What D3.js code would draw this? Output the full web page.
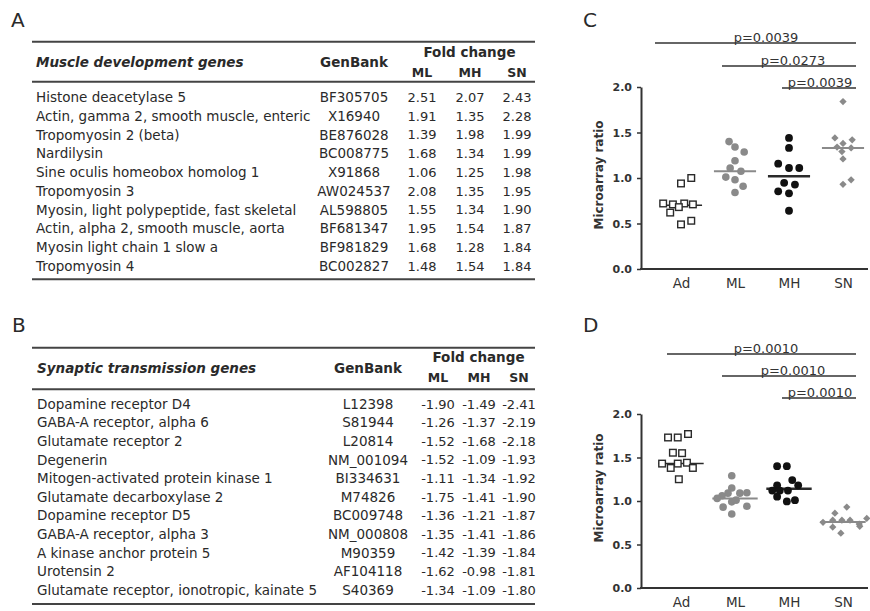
<!DOCTYPE html>
<html>
<head>
<meta charset="utf-8">
<script src="https://cdn.jsdelivr.net/npm/d3@7"></script>
<style>
  body { margin: 0; background: #fff; }
  svg { display: block; font-family: "DejaVu Sans", sans-serif; }
</style>
</head>
<body>
<div id="chart"></div>
<script>
// ---- table A: muscle development genes
const muscleGenes = ["Histone deacetylase 5", "Actin, gamma 2, smooth muscle, enteric", "Tropomyosin 2 (beta)",
  "Nardilysin", "Sine oculis homeobox homolog 1", "Tropomyosin 3", "Myosin, light polypeptide, fast skeletal",
  "Actin, alpha 2, smooth muscle, aorta", "Myosin light chain 1 slow a", "Tropomyosin 4"];
const muscleGenBank = ["BF305705", "X16940", "BE876028", "BC008775", "X91868", "AW024537", "AL598805",
  "BF681347", "BF981829", "BC002827"];
const muscleML = [2.51, 1.91, 1.39, 1.68, 1.06, 2.08, 1.55, 1.95, 1.68, 1.48];
const muscleMH = [2.07, 1.35, 1.98, 1.34, 1.25, 1.35, 1.34, 1.54, 1.28, 1.54];
const muscleSN = [2.43, 2.28, 1.99, 1.99, 1.98, 1.95, 1.90, 1.87, 1.84, 1.84];

// ---- table B: synaptic transmission genes
const synapticGenes = ["Dopamine receptor D4", "GABA-A receptor, alpha 6", "Glutamate receptor 2", "Degenerin",
  "Mitogen-activated protein kinase 1", "Glutamate decarboxylase 2", "Dopamine receptor D5",
  "GABA-A receptor, alpha 3", "A kinase anchor protein 5", "Urotensin 2", "Glutamate receptor, ionotropic, kainate 5"];
const synapticGenBank = ["L12398", "S81944", "L20814", "NM_001094", "BI334631", "M74826", "BC009748",
  "NM_000808", "M90359", "AF104118", "S40369"];
const synapticML = [-1.90, -1.26, -1.52, -1.52, -1.11, -1.75, -1.36, -1.35, -1.42, -1.62, -1.34];
const synapticMH = [-1.49, -1.37, -1.68, -1.09, -1.34, -1.41, -1.21, -1.41, -1.39, -0.98, -1.09];
const synapticSN = [-2.41, -2.19, -2.18, -1.93, -1.92, -1.90, -1.87, -1.86, -1.84, -1.81, -1.80];

// ---- dot plots
const groups = ["Ad", "ML", "MH", "SN"];
const yTicks = [0, 0.5, 1.0, 1.5, 2.0];

// panel C: microarray ratio per animal, with horizontal spread (in category units)
const cAd = [1.00, 0.94, 0.72, 0.71, 0.72, 0.71, 0.68, 0.62, 0.53, 0.49];
const cAdDx = [0.19, 0, -0.33, -0.15, 0.06, 0.22, -0.04, -0.2, 0.19, 0];
const cML = [1.40, 1.34, 1.285, 1.19, 1.11, 1.075, 1.01, 0.98, 0.91, 0.84];
const cMLDx = [-0.11, 0, 0.17, 0, -0.09, 0.11, -0.17, 0, 0.15, 0];
const cMH = [1.44, 1.33, 1.157, 1.11, 1.11, 0.947, 0.928, 0.854, 0.832, 0.64];
const cMHDx = [0, 0, -0.2, 0, 0.19, -0.09, 0.11, -0.2, 0, 0];
const cSN = [1.84, 1.44, 1.42, 1.38, 1.34, 1.33, 1.29, 1.21, 0.98, 0.93];
const cSNDx = [0, -0.15, 0.17, 0, -0.11, 0.15, -0.02, 0, 0.15, 0];
const cMedians = [0.70, 1.075, 1.02, 1.33];
const cPairs = [["Ad", "SN"], ["ML", "SN"], ["MH", "SN"]];
const cPValues = ["p=0.0039", "p=0.0273", "p=0.0039"];

// panel D
const dAd = [1.77, 1.73, 1.73, 1.555, 1.55, 1.43, 1.43, 1.44, 1.38, 1.38, 1.25];
const dAdDx = [0.13, -0.06, -0.24, -0.15, 0.02, -0.35, -0.06, 0.11, -0.19, 0.22, -0.04];
const dML = [1.29, 1.15, 1.09, 1.09, 1.095, 1.06, 0.99, 0.93, 0.94, 0.85, 1.03, 1.01];
const dMLDx = [-0.06, -0.06, -0.13, 0.09, 0.22, -0.24, -0.06, -0.22, 0.22, -0.06, -0.33, 0.02];
const dMH = [1.40, 1.40, 1.24, 1.18, 1.18, 1.12, 1.12, 1.12, 1.05, 0.995, 1.01];
const dMHDx = [-0.22, -0.04, 0.06, -0.22, 0.17, -0.31, -0.17, -0.02, -0.22, -0.04, 0.11];
const dSN = [0.93, 0.86, 0.80, 0.735, 0.755, 0.78, 0.78, 0.78, 0.70, 0.63, 0.71];
const dSNDx = [0.07, -0.15, 0.44, 0.3, -0.37, -0.19, -0.02, 0.13, -0.19, -0.04, 0.31];
const dMedians = [1.43, 1.03, 1.14, 0.76];
const dPairs = [["Ad", "SN"], ["ML", "SN"], ["MH", "SN"]];
const dPValues = ["p=0.0010", "p=0.0010", "p=0.0010"];

const W = 870, H = 611;
const svg = d3.select("#chart").append("svg")
  .attr("width", W).attr("height", H)
  .attr("viewBox", `0 0 ${W} ${H}`);

const ink = "#2a2a2a";
const grey = "#8a8a8a";

// panel letters
const letters = [["A", 11, 27], ["B", 12, 332], ["C", 583, 27], ["D", 583, 332]];
svg.selectAll(".letter").data(letters).enter().append("text")
  .attr("class", "letter")
  .attr("x", d => d[1])
  .attr("y", d => d[2])
  .attr("font-size", 20).attr("fill", ink)
  .text(d => d[0]);

// ---------- tables ----------
function drawTable(opt) {
  const g = svg.append("g");
  const rule = y => g.append("line")
    .attr("x1", opt.left).attr("x2", opt.right).attr("y1", y).attr("y2", y)
    .attr("stroke", "#444").attr("stroke-width", 2);
  rule(opt.top);
  rule(opt.headRule);

  const rowY = d3.scaleLinear().domain([0, opt.genes.length - 1]).range([opt.firstRow, opt.lastRow]);
  rule(rowY(opt.genes.length - 1) + opt.bottomGap);

  g.append("text")
    .attr("x", opt.geneX).attr("y", opt.headY)
    .attr("font-weight", "bold").attr("font-style", "italic")
    .attr("font-size", 13.5).attr("fill", ink)
    .text(opt.title);
  g.append("text")
    .attr("x", opt.bankX).attr("y", opt.headY)
    .attr("text-anchor", "middle").attr("font-weight", "bold")
    .attr("font-size", 13.5).attr("fill", ink)
    .text("GenBank");
  g.append("text")
    .attr("x", (opt.cols[0] + opt.cols[2]) / 2).attr("y", opt.foldY)
    .attr("text-anchor", "middle").attr("font-weight", "bold")
    .attr("font-size", 13.5).attr("fill", ink)
    .text("Fold change");
  g.selectAll(".colhead").data(["ML", "MH", "SN"]).enter().append("text")
    .attr("x", (d, i) => opt.cols[i]).attr("y", opt.subY)
    .attr("text-anchor", "middle").attr("font-weight", "bold")
    .attr("font-size", 12.5).attr("fill", ink)
    .text(d => d);

  const rows = opt.genes.map((gene, i) => ({
    gene, bank: opt.banks[i], vals: [opt.ml[i], opt.mh[i], opt.sn[i]], i
  }));
  const r = g.selectAll(".row").data(rows).enter().append("g")
    .attr("transform", d => `translate(0,${rowY(d.i)})`);
  r.append("text").attr("x", opt.geneX).attr("dy", "0.36em")
    .attr("font-size", 13.5).attr("fill", ink).text(d => d.gene);
  r.append("text").attr("x", opt.bankX).attr("dy", "0.36em")
    .attr("text-anchor", "middle")
    .attr("font-size", 13.5).attr("fill", ink).text(d => d.bank);
  r.selectAll(".v").data(d => d.vals).enter().append("text")
    .attr("x", (v, j) => opt.cols[j]).attr("dy", "0.36em")
    .attr("text-anchor", "middle")
    .attr("font-size", 13).attr("fill", ink)
    .text(v => v.toFixed(2));
}

drawTable({
  title: "Muscle development genes",
  genes: muscleGenes, banks: muscleGenBank, ml: muscleML, mh: muscleMH, sn: muscleSN,
  left: 32, right: 535, top: 41.7, headRule: 81.7, bottomGap: 13.3,
  firstRow: 97.3, lastRow: 266,
  geneX: 36, bankX: 354, cols: [422, 470, 517],
  headY: 66.5, foldY: 56.5, subY: 76.5
});

drawTable({
  title: "Synaptic transmission genes",
  genes: synapticGenes, banks: synapticGenBank, ml: synapticML, mh: synapticMH, sn: synapticSN,
  left: 32, right: 535, top: 347.7, headRule: 389.3, bottomGap: 14,
  firstRow: 404, lastRow: 590,
  geneX: 37, bankX: 368, cols: [438, 479, 519],
  headY: 372.5, foldY: 362, subY: 382
});

// ---------- dot plots ----------
function drawDots(opt) {
  const g = svg.append("g");
  const x = d3.scalePoint().domain(groups).range([681, 843]);
  const xUnit = x.step();
  const y = d3.scaleLinear().domain([0, 2]).range(opt.yRange);
  const axisLeftX = 641, axisRightX = 868;

  // y axis
  const yAxis = g.append("g")
    .attr("transform", `translate(${axisLeftX},0)`)
    .call(d3.axisLeft(y).tickValues(yTicks).tickFormat(d3.format(".1f")).tickSize(4).tickSizeOuter(0));
  yAxis.select(".domain").attr("stroke", "#333").attr("stroke-width", 2);
  yAxis.selectAll(".tick line").attr("stroke", "#333").attr("stroke-width", 1.5);
  yAxis.selectAll(".tick text")
    .attr("x", -9)
    .attr("font-family", "DejaVu Sans").attr("font-size", 11)
    .attr("font-weight", "bold").attr("fill", "#333");

  // baseline
  g.append("line")
    .attr("x1", axisLeftX - 1).attr("x2", axisRightX)
    .attr("y1", y(0)).attr("y2", y(0))
    .attr("stroke", "#333").attr("stroke-width", 2);

  // category labels
  const xAxis = g.append("g")
    .attr("transform", `translate(0,${y(0)})`)
    .call(d3.axisBottom(x).tickSize(0));
  xAxis.select(".domain").remove();
  xAxis.selectAll(".tick text")
    .attr("y", 19).attr("dy", null)
    .attr("font-family", "DejaVu Sans").attr("font-size", 13.5)
    .attr("fill", "#333");

  // y label
  g.append("text")
    .attr("transform", `translate(603,${opt.labelY}) rotate(-90)`)
    .attr("text-anchor", "middle")
    .attr("font-size", 12).attr("font-weight", "bold").attr("fill", "#333")
    .text("Microarray ratio");

  // significance bars
  opt.pairs.forEach((p, i) => {
    const x1 = x(p[0]) - opt.barPad[i], x2 = x(p[1]) + 13;
    g.append("line")
      .attr("x1", x1).attr("x2", x2)
      .attr("y1", opt.barY[i]).attr("y2", opt.barY[i])
      .attr("stroke", "#333").attr("stroke-width", 1.6);
    g.append("text")
      .attr("x", (x(p[0]) + x(p[1])) / 2 + 4).attr("y", opt.barY[i] - 1.5)
      .attr("text-anchor", "middle")
      .attr("font-size", 13).attr("fill", "#333")
      .text(opt.pvalues[i]);
  });

  // medians
  const medW = opt.medHalf;
  const medStyle = [[ink, 1.5], [grey, 2], [ink, 2.6], [grey, 2]];
  g.selectAll(".median").data(opt.medians).enter().append("line")
    .attr("x1", (m, i) => x(groups[i]) - medW * xUnit)
    .attr("x2", (m, i) => x(groups[i]) + medW * xUnit)
    .attr("y1", m => y(m)).attr("y2", m => y(m))
    .attr("stroke", (m, i) => medStyle[i][0])
    .attr("stroke-width", (m, i) => medStyle[i][1]);

  const pts = (vals, dx, grp) => vals.map((v, i) => ({ v, dx: dx[i], grp }));
  const px = d => x(d.grp) + d.dx * xUnit;

  // Ad: open squares
  g.selectAll(".ad").data(pts(opt.ad, opt.adDx, "Ad")).enter().append("rect")
    .attr("x", d => px(d) - 3.3).attr("y", d => y(d.v) - 3.3)
    .attr("width", 6.6).attr("height", 6.6)
    .attr("fill", "#fff").attr("stroke", ink).attr("stroke-width", 1.4);
  // ML: grey dots
  g.selectAll(".ml").data(pts(opt.ml, opt.mlDx, "ML")).enter().append("circle")
    .attr("cx", px).attr("cy", d => y(d.v)).attr("r", 3.8)
    .attr("fill", grey);
  // MH: black dots
  g.selectAll(".mh").data(pts(opt.mh, opt.mhDx, "MH")).enter().append("circle")
    .attr("cx", px).attr("cy", d => y(d.v)).attr("r", 3.9)
    .attr("fill", "#111");
  // SN: grey diamonds
  g.selectAll(".sn").data(pts(opt.sn, opt.snDx, "SN")).enter().append("path")
    .attr("d", d3.symbol(d3.symbolDiamond2, 34)())
    .attr("transform", d => `translate(${px(d)},${y(d.v)})`)
    .attr("fill", grey);
}

drawDots({
  yRange: [269, 87], labelY: 175,
  ad: cAd, adDx: cAdDx, ml: cML, mlDx: cMLDx, mh: cMH, mhDx: cMHDx, sn: cSN, snDx: cSNDx,
  medians: cMedians, medHalf: 0.39,
  pairs: cPairs, pvalues: cPValues, barY: [43, 66, 88], barPad: [26, 13, 7]
});

drawDots({
  yRange: [588, 414], labelY: 488,
  ad: dAd, adDx: dAdDx, ml: dML, mlDx: dMLDx, mh: dMH, mhDx: dMHDx, sn: dSN, snDx: dSNDx,
  medians: dMedians, medHalf: 0.42,
  pairs: dPairs, pvalues: dPValues, barY: [354, 376, 398], barPad: [14, 13, 7]
});
</script>
</body>
</html>
